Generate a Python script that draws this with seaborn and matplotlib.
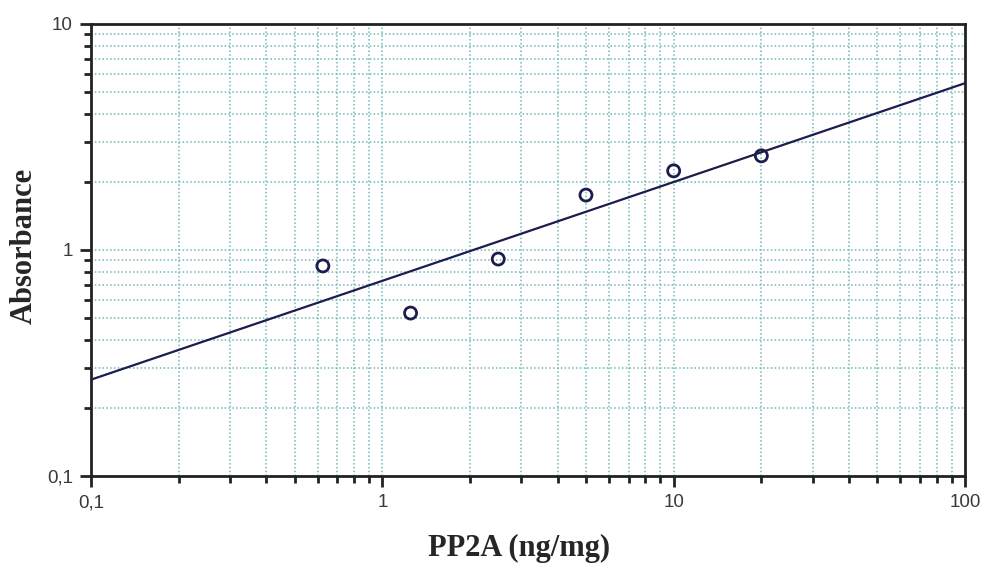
import numpy as np
import pandas as pd
import matplotlib
matplotlib.use("Agg")
import matplotlib.pyplot as plt
import seaborn as sns
from matplotlib.ticker import FixedLocator, FixedFormatter, LogLocator, NullFormatter

# ---- data ----
pp2a = [0.625, 1.25, 2.5, 5, 10, 20]
absorbance = [0.85, 0.526, 0.912, 1.75, 2.24, 2.61]
x_ticks = [0.1, 1, 10, 100]
x_tick_labels = ["0,1", "1", "10", "100"]
y_ticks = [0.1, 1, 10]
y_tick_labels = ["0,1", "1", "10"]
x_label = "PP2A (ng/mg)"
y_label = "Absorbance"

df = pd.DataFrame({"x": pp2a, "y": absorbance})

# power-law (log-log linear) fit, drawn over the full x range
b, a = np.polyfit(np.log10(pp2a), np.log10(absorbance), 1)
xf = np.logspace(np.log10(x_ticks[0]), np.log10(x_ticks[-1]), 100)
fit = pd.DataFrame({"x": xf, "y": 10 ** (a + b * np.log10(xf))})

sns.set_theme(style="ticks")
plt.rcParams["font.family"] = ["Liberation Sans", "DejaVu Sans"]

fig = plt.figure(figsize=(9.84, 5.63), dpi=100)
ax = fig.add_axes([91 / 984, 1 - 476 / 563, 874 / 984, 452 / 563])

grid_col = "#6fb8b8"
ax.set_xscale("log")
ax.set_yscale("log")
ax.set_xlim(0.1, 100)
ax.set_ylim(0.1, 10)
ax.grid(True, which="both", color=grid_col, linestyle=(0, (1, 1.5)), linewidth=1.1)
ax.set_axisbelow(True)

navy = "#1c1c4e"
sns.lineplot(data=fit, x="x", y="y", ax=ax, color=navy, linewidth=1.6, zorder=3)
sns.scatterplot(data=df, x="x", y="y", ax=ax, s=75, facecolor="none",
                edgecolor=navy, linewidth=2.0, zorder=4)

ax.xaxis.set_major_locator(FixedLocator(x_ticks))
ax.xaxis.set_major_formatter(FixedFormatter(x_tick_labels))
ax.yaxis.set_major_locator(FixedLocator(y_ticks))
ax.yaxis.set_major_formatter(FixedFormatter(y_tick_labels))
ax.xaxis.set_minor_locator(LogLocator(base=10, subs=np.arange(2, 10)))
ax.yaxis.set_minor_locator(LogLocator(base=10, subs=np.arange(2, 10)))
ax.xaxis.set_minor_formatter(NullFormatter())
ax.yaxis.set_minor_formatter(NullFormatter())

ax.tick_params(which="major", direction="out", length=8, width=2, colors="#222222",
               labelsize=13.5, labelcolor="#3a3a3a")
ax.tick_params(which="minor", direction="out", length=5, width=2, colors="#222222")
ax.tick_params(axis="x", which="major", pad=5)
ax.tick_params(axis="y", which="major", pad=5)
ax.tick_params(top=False, right=False, which="both")

for s in ax.spines.values():
    s.set_visible(True)
    s.set_linewidth(2)
    s.set_color("#222222")

ax.set_xlabel("")
ax.set_ylabel("")
fig.text(519 / 984, 1 - 548 / 563, x_label, ha="center", va="center",
         family=["Liberation Serif", "DejaVu Serif"], fontweight="bold", fontsize=22)
fig.text(24 / 984, 1 - 246 / 563, y_label, ha="center", va="center", rotation=90,
         family=["Liberation Serif", "DejaVu Serif"], fontweight="bold", fontsize=22)

fig.savefig("out.png", dpi=100, facecolor="white")
